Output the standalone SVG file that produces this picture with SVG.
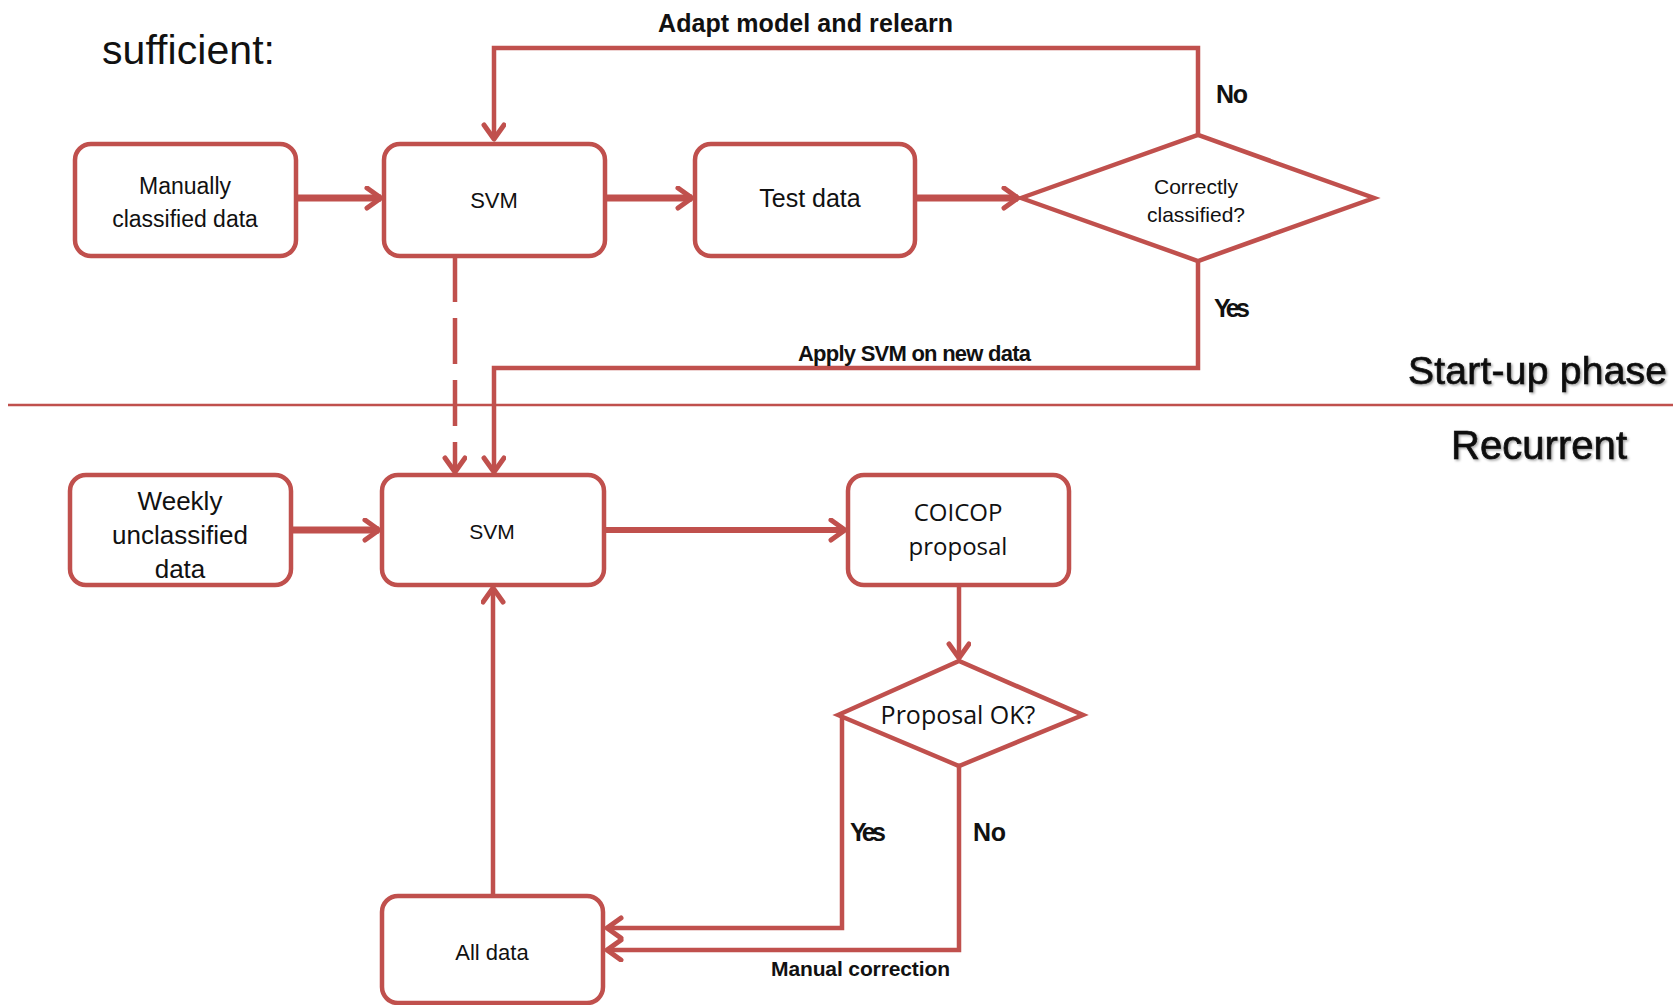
<svg xmlns="http://www.w3.org/2000/svg" width="1673" height="1005" viewBox="0 0 1673 1005">
<defs>
<marker id="arr" markerUnits="userSpaceOnUse" markerWidth="30" markerHeight="30" refX="18" refY="12" orient="auto">
<path d="M4,2 L18,12 L4,22" fill="none" stroke="#C0504D" stroke-width="5" stroke-linecap="round" stroke-linejoin="round"/>
</marker>
<filter id="sh" x="-5%" y="-20%" width="110%" height="150%">
<feDropShadow dx="1.5" dy="1.5" stdDeviation="0.8" flood-color="#000" flood-opacity="0.35"/>
</filter>
</defs>
<style>
.box{fill:#fff;stroke:#C0504D;stroke-width:4.5}
.dia{fill:#fff;stroke:#C0504D;stroke-width:4.5;stroke-linejoin:miter}
.c{fill:none;stroke:#C0504D;stroke-linejoin:miter}
.thick{stroke-width:7}
.thin{stroke-width:4.5}
.t{font-family:"Liberation Sans",Arial,sans-serif;fill:#111;text-anchor:middle}
.o{font-family:"Open Sans","Liberation Sans",sans-serif;fill:#111;text-anchor:middle}
.b{font-family:"Liberation Sans",Arial,sans-serif;font-weight:bold;fill:#111}
.big{font-family:"Liberation Sans",Arial,sans-serif;fill:#111;stroke:#111;stroke-width:0.7;filter:url(#sh)}
</style>
<rect width="1673" height="1005" fill="#fff"/>

<text x="102" y="64" font-size="41" textLength="173" font-family="Liberation Sans, Arial, sans-serif" fill="#111">sufficient:</text>
<line x1="8" y1="405" x2="1673" y2="405" stroke="#C0504D" stroke-width="2.5"/>
<text class="big" x="1408" y="384" font-size="39" textLength="259">Start-up phase</text>
<text class="big" x="1451" y="459" font-size="40" textLength="176">Recurrent</text>

<g id="connectors">
<path class="c thick" d="M296,198 L381,198" marker-end="url(#arr)"/>
<path class="c thick" d="M605,198 L692,198" marker-end="url(#arr)"/>
<path class="c thick" d="M915,198 L1018,198" marker-end="url(#arr)"/>
<path class="c thin" d="M1198,135 L1198,48 L494,48 L494,139" marker-end="url(#arr)"/>
<path class="c thin" d="M1198,261 L1198,368 L494,368 L494,472" marker-end="url(#arr)"/>
<path class="c thin" d="M455,256 L455,472" stroke-dasharray="46,16" marker-end="url(#arr)"/>
<path class="c thick" d="M291,530 L379,530" marker-end="url(#arr)"/>
<path class="c" stroke-width="6" d="M604,530 L845,530" marker-end="url(#arr)"/>
<path class="c thin" d="M959,585 L959,658" marker-end="url(#arr)"/>
<path class="c thin" d="M842,715 L842,928 L607,928" marker-end="url(#arr)"/>
<path class="c thin" d="M959,766 L959,950 L607,950" marker-end="url(#arr)"/>
<path class="c thin" d="M493,896 L493,588" marker-end="url(#arr)"/>
<text class="b" x="658" y="32" font-size="25" textLength="295">Adapt model and relearn</text>
<text class="b" x="1216" y="103" font-size="25" textLength="32">No</text>
<text class="b" x="1214" y="317" font-size="25" textLength="36">Yes</text>
<text class="b" x="798" y="361" font-size="22" textLength="233">Apply SVM on new data</text>
<text class="b" x="850" y="841" font-size="25" textLength="36">Yes</text>
<text class="b" x="973" y="841" font-size="25" textLength="33">No</text>
<text class="b" x="771" y="976" font-size="21" textLength="179">Manual correction</text>
</g>

<g id="n-manual">
<rect class="box" x="75" y="144" width="221" height="112" rx="16"/>
<text class="t" x="185" y="194" font-size="23">Manually</text>
<text class="t" x="185" y="227" font-size="23">classified data</text>
</g>
<g id="n-svm1">
<rect class="box" x="384" y="144" width="221" height="112" rx="16"/>
<text class="t" x="494" y="208" font-size="22">SVM</text>
</g>
<g id="n-test">
<rect class="box" x="695" y="144" width="220" height="112" rx="16"/>
<text class="t" x="810" y="207" font-size="25">Test data</text>
</g>
<g id="n-correct">
<polygon class="dia" points="1021,198 1198,135 1374,198 1198,261"/>
<text class="t" x="1196" y="194" font-size="21">Correctly</text>
<text class="t" x="1196" y="222" font-size="21">classified?</text>
</g>
<g id="n-weekly">
<rect class="box" x="70" y="475" width="221" height="110" rx="16"/>
<text class="t" x="180" y="510" font-size="26">Weekly</text>
<text class="t" x="180" y="544" font-size="26">unclassified</text>
<text class="t" x="180" y="578" font-size="26">data</text>
</g>
<g id="n-svm2">
<rect class="box" x="382" y="475" width="222" height="110" rx="16"/>
<text class="t" x="492" y="539" font-size="21">SVM</text>
</g>
<g id="n-coicop">
<rect class="box" x="848" y="475" width="221" height="110" rx="16"/>
<text class="o" x="958" y="521" font-size="24">COICOP</text>
<text class="o" x="958" y="555" font-size="24">proposal</text>
</g>
<g id="n-propok">
<polygon class="dia" points="838,715 959,661 1083,715 959,766"/>
<text class="o" x="958" y="724" font-size="25">Proposal OK?</text>
</g>
<g id="n-all">
<rect class="box" x="382" y="896" width="221" height="107" rx="16"/>
<text class="t" x="492" y="960" font-size="22">All data</text>
</g>
</svg>
